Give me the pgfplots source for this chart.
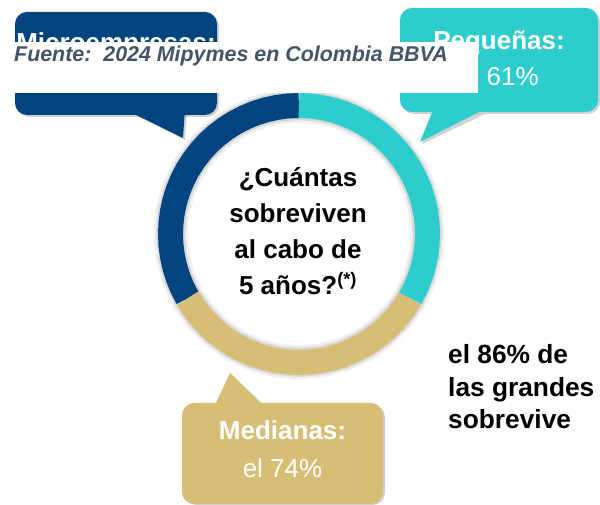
\documentclass[border=0pt]{standalone}
\usepackage{fontspec}
\setmainfont{Liberation Sans}
\usepackage{pgfplots}
\pgfplotsset{compat=1.18}
\definecolor{bbvanavy}{HTML}{024480}
\definecolor{bbvaaqua}{HTML}{2DCCCD}
\definecolor{bbvasand}{HTML}{D8BE75}
\definecolor{fuente}{HTML}{44546A}
\begin{document}
\begin{tikzpicture}
\begin{axis}[
  at={(0,0)}, anchor=south west,
  width=600pt, height=505pt, scale only axis,
  xmin=-299, xmax=301, ymin=-271, ymax=234,
  hide axis, clip=false,
]
% ---- bubble shadows
\fill[black, opacity=0.18, rounded corners=12pt] (axis cs:-282,220) rectangle (axis cs:-80,117);
\fill[black, opacity=0.18] (axis cs:-165,120) -- (axis cs:-112,126) -- (axis cs:-114,94) -- cycle;
\fill[black, opacity=0.18, rounded corners=12pt] (axis cs:103,224) rectangle (axis cs:301,120);
\fill[black, opacity=0.18] (axis cs:136,124) -- (axis cs:186,120) -- (axis cs:123,90) -- cycle;
\fill[black, opacity=0.18, rounded corners=12pt] (axis cs:-115,-171) rectangle (axis cs:86,-271);
\fill[black, opacity=0.18] (axis cs:-82,-166) -- (axis cs:-35,-171) -- (axis cs:-67,-141) -- cycle;
% ---- bubbles
\fill[bbvanavy, rounded corners=12pt] (axis cs:-284,222) rectangle (axis cs:-82,119);
\fill[bbvanavy] (axis cs:-167,121) -- (axis cs:-114,126) -- (axis cs:-116,96) -- cycle;
\fill[bbvaaqua, rounded corners=12pt] (axis cs:101,226) rectangle (axis cs:299,122);
\fill[bbvaaqua] (axis cs:134,124) -- (axis cs:184,124) -- (axis cs:121,92) -- cycle;
\fill[bbvasand, rounded corners=12pt] (axis cs:-117,-169) rectangle (axis cs:84,-270);
\fill[bbvasand] (axis cs:-84,-171) -- (axis cs:-37,-171) -- (axis cs:-69,-139) -- cycle;
% ---- donut shadow
\addplot[black, opacity=0.06, line width=34pt, data cs=polar, no markers] coordinates {
(0,128.5) (10,128.5) (20,128.5) (30,128.5) (40,128.5) (50,128.5) (60,128.5) (70,128.5) (80,128.5) (90,128.5) (100,128.5) (110,128.5) (120,128.5) (130,128.5) (140,128.5) (150,128.5) (160,128.5) (170,128.5) (180,128.5) (190,128.5) (200,128.5) (210,128.5) (220,128.5) (230,128.5) (240,128.5) (250,128.5) (260,128.5) (270,128.5) (280,128.5) (290,128.5) (300,128.5) (310,128.5) (320,128.5) (330,128.5) (340,128.5) (350,128.5) (360,128.5)} -- cycle;
\addplot[black, opacity=0.10, line width=29pt, data cs=polar, no markers] coordinates {
(0,128.5) (10,128.5) (20,128.5) (30,128.5) (40,128.5) (50,128.5) (60,128.5) (70,128.5) (80,128.5) (90,128.5) (100,128.5) (110,128.5) (120,128.5) (130,128.5) (140,128.5) (150,128.5) (160,128.5) (170,128.5) (180,128.5) (190,128.5) (200,128.5) (210,128.5) (220,128.5) (230,128.5) (240,128.5) (250,128.5) (260,128.5) (270,128.5) (280,128.5) (290,128.5) (300,128.5) (310,128.5) (320,128.5) (330,128.5) (340,128.5) (350,128.5) (360,128.5)} -- cycle;
% ---- donut segments (three equal thirds)
\addplot[bbvanavy, line width=25pt, data cs=polar, no markers] coordinates {
(90,128.5) (95,128.5) (100,128.5) (105,128.5) (110,128.5) (115,128.5) (120,128.5) (125,128.5) (130,128.5) (135,128.5) (140,128.5) (145,128.5) (150,128.5) (155,128.5) (160,128.5) (165,128.5) (170,128.5) (175,128.5) (180,128.5) (185,128.5) (190,128.5) (195,128.5) (200,128.5) (205,128.5) (210,128.5)};
\addplot[bbvasand, line width=25pt, data cs=polar, no markers] coordinates {
(210,128.5) (215,128.5) (220,128.5) (225,128.5) (230,128.5) (235,128.5) (240,128.5) (245,128.5) (250,128.5) (255,128.5) (260,128.5) (265,128.5) (270,128.5) (275,128.5) (280,128.5) (285,128.5) (290,128.5) (295,128.5) (300,128.5) (305,128.5) (310,128.5) (315,128.5) (320,128.5) (325,128.5) (330,128.5)};
\addplot[bbvaaqua, line width=25pt, data cs=polar, no markers] coordinates {
(330,128.5) (335,128.5) (340,128.5) (345,128.5) (350,128.5) (355,128.5) (360,128.5) (365,128.5) (370,128.5) (375,128.5) (380,128.5) (385,128.5) (390,128.5) (395,128.5) (400,128.5) (405,128.5) (410,128.5) (415,128.5) (420,128.5) (425,128.5) (430,128.5) (435,128.5) (440,128.5) (445,128.5) (450,128.5)};
% ---- bubble texts
\node[anchor=base, text=white, font=\fontsize{26}{31}\selectfont\bfseries] at (axis cs:-183,182) {Microempresas:};
\node[anchor=base, text=white, font=\fontsize{26}{31}\selectfont\bfseries] at (axis cs:200,184) {Pequeñas:};
\node[anchor=base, text=white, font=\fontsize{26}{31}\selectfont] at (axis cs:200,148) {el 61\%};
\node[anchor=base, text=white, font=\fontsize{26}{31}\selectfont\bfseries] at (axis cs:-16.5,-206) {Medianas:};
\node[anchor=base, text=white, font=\fontsize{26}{31}\selectfont] at (axis cs:-16.5,-244) {el 74\%};
% ---- source overlay box
\fill[white] (axis cs:-287,192) rectangle (axis cs:179,141);
\node[anchor=base west, inner sep=0pt, text=fuente, font=\fontsize{21.4}{25}\selectfont\bfseries\itshape] at (axis cs:-285,172) {Fuente:\ \ 2024 Mipymes en Colombia BBVA};
% ---- centre question
\node[anchor=base, text=black, font=\fontsize{26}{31}\selectfont\bfseries] at (axis cs:-1,47) {¿Cuántas};
\node[anchor=base, text=black, font=\fontsize{26}{31}\selectfont\bfseries] at (axis cs:-1,11) {sobreviven};
\node[anchor=base, text=black, font=\fontsize{26}{31}\selectfont\bfseries] at (axis cs:-1,-25) {al cabo de};
\node[anchor=base, text=black, font=\fontsize{26}{31}\selectfont\bfseries] at (axis cs:-1,-61) {5 años?\textsuperscript{(*)}};
% ---- grandes
\node[anchor=base west, inner sep=0pt, text=black, font=\fontsize{26.3}{31}\selectfont\bfseries] at (axis cs:149,-130) {el 86\% de};
\node[anchor=base west, inner sep=0pt, text=black, font=\fontsize{26.3}{31}\selectfont\bfseries] at (axis cs:149,-163) {las grandes};
\node[anchor=base west, inner sep=0pt, text=black, font=\fontsize{26.3}{31}\selectfont\bfseries] at (axis cs:149,-195) {sobrevive};
\end{axis}
\pgfresetboundingbox
\path (0,0) rectangle (600pt,505pt);
\end{tikzpicture}
\end{document}
